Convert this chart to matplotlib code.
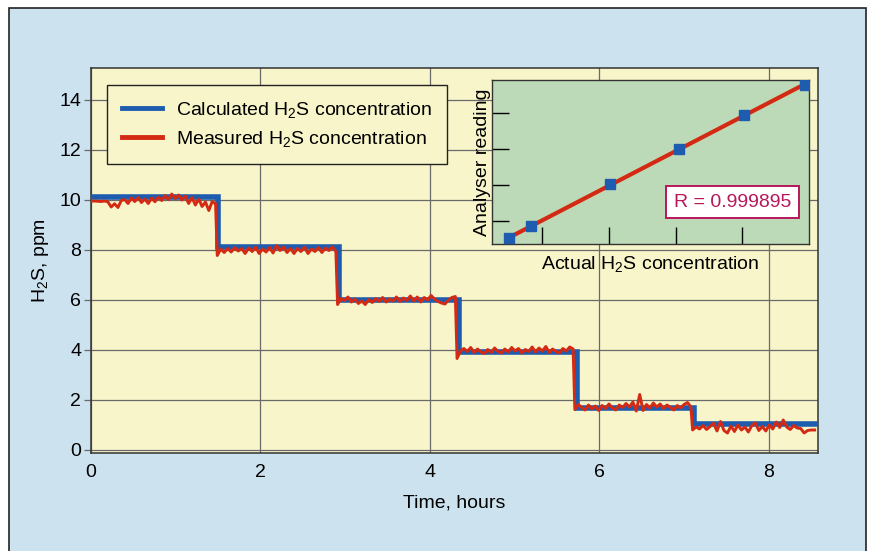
import numpy as np
import matplotlib
matplotlib.use("Agg")
import matplotlib.pyplot as plt
from matplotlib.patches import Rectangle

plt.rcParams['font.family'] = ['Liberation Sans', 'DejaVu Sans']
plt.rcParams['mathtext.fontset'] = 'custom'
plt.rcParams['mathtext.rm'] = 'Liberation Sans'
plt.rcParams['mathtext.it'] = 'Liberation Sans'

# calculated H2S (step changes)
calc_edges = [0, 1.50, 2.93, 4.34, 5.73, 7.12, 8.58]
calc_levels = [10.1, 8.1, 6.0, 3.92, 1.68, 1.05]

seg1 = [9.95, 9.96, 9.95, 9.94, 9.96, 9.93, 9.72, 9.85, 9.70, 9.98, 10.02, 9.86, 10.08,
        9.94, 10.10, 9.90, 10.04, 9.86, 10.08, 9.93, 10.12, 9.98, 10.18, 10.02, 10.24,
        10.06, 10.20, 10.00, 10.16, 9.86, 10.10, 9.80, 10.04, 9.74, 9.92, 9.58, 9.94, 9.85]
seg2 = [7.78, 8.04, 7.90, 8.06, 7.92, 8.10, 7.96, 8.06, 7.86, 8.08, 7.94, 8.12, 7.86,
        8.04, 7.92, 8.10, 7.88, 8.18, 7.98, 8.12, 7.90, 8.06, 7.86, 8.06, 7.94, 8.12,
        7.86, 8.04, 7.94, 8.10, 7.90, 8.08, 7.98, 8.12, 7.95]
seg3 = [5.82, 6.06, 5.98, 6.12, 5.92, 6.04, 5.86, 5.96, 5.82, 6.02, 5.90, 6.06, 5.94,
        6.10, 5.92, 6.04, 5.96, 6.12, 5.94, 6.08, 5.98, 6.16, 5.96, 6.12, 5.92, 6.10,
        6.00, 6.18, 6.04, 5.94, 5.88, 5.84, 6.00, 6.10, 6.14]
seg4 = [3.66, 3.96, 4.06, 3.94, 4.10, 3.90, 4.04, 3.92, 3.86, 4.02, 3.90, 4.08, 3.94,
        3.88, 4.04, 3.92, 4.10, 3.96, 4.06, 3.88, 4.02, 3.94, 4.12, 3.92, 4.08, 3.96,
        4.14, 3.90, 4.04, 3.94, 3.88, 4.06, 3.96, 4.12, 4.04]
seg5 = [1.62, 1.82, 1.70, 1.60, 1.80, 1.64, 1.76, 1.58, 1.78, 1.66, 1.84, 1.68, 1.60,
        1.80, 1.70, 1.86, 1.72, 1.92, 1.56, 2.22, 1.58, 1.82, 1.68, 1.88, 1.72, 1.84,
        1.66, 1.80, 1.70, 1.60, 1.78, 1.68, 1.82, 1.90, 1.72]
seg6 = [0.80, 0.92, 0.84, 0.98, 0.82, 0.94, 1.07, 0.76, 1.14, 0.78, 0.68, 0.96, 0.74,
        1.00, 0.80, 0.92, 0.72, 0.98, 1.08, 0.78, 0.94, 0.76, 1.00, 0.84, 1.12, 0.90,
        1.20, 0.92, 0.82, 0.98, 0.88, 0.86, 0.68, 0.78, 0.80, 0.80]
meas_segments = [(0.00, 1.47, seg1), (1.49, 2.89, seg2), (2.91, 4.30, seg3),
                 (4.32, 5.69, seg4), (5.71, 7.08, seg5), (7.10, 8.54, seg6)]

# inset calibration
actual_conc = [1.0, 1.67, 4.03, 6.09, 8.06, 9.88]
analyser_reading = [1.06, 1.72, 4.05, 6.0, 7.9, 9.55]

blue = '#1d5cae'
red = '#d42a14'
fs = 14

meas_t = np.concatenate([np.linspace(a, b, len(v)) for a, b, v in meas_segments])
meas_v = np.concatenate([v for a, b, v in meas_segments])

fig = plt.figure(figsize=(8.7, 5.51), dpi=100)
fig.patch.set_facecolor('white')
page = Rectangle((9 / 870, -0.05), (866 - 9) / 870, 1.05 - 8 / 551,
                 transform=fig.transFigure, facecolor='#cde2ef',
                 edgecolor='#222222', lw=1.2, zorder=-5)
fig.add_artist(page)

ax = fig.add_axes([91 / 870, 1 - 453 / 551, (818 - 91) / 870, (453 - 68) / 551])
ax.set_facecolor('#f7f5c9')
ax.stairs(calc_levels, calc_edges, baseline=None, color=blue, lw=4,
          label='Calculated H$_2$S concentration', zorder=3)
ax.plot(meas_t, meas_v, color=red, lw=2.1, label='Measured H$_2$S concentration', zorder=4)

ax.set_xlim(0, 8.58)
ax.set_ylim(-0.12, 15.28)
ax.set_xticks([0, 2, 4, 6, 8])
ax.set_yticks([0, 2, 4, 6, 8, 10, 12, 14])
ax.grid(True, color='#6a6a6a', lw=0.9)
ax.set_axisbelow(True)
ax.tick_params(axis='x', length=0, pad=8, labelsize=fs)
ax.tick_params(axis='y', length=5, width=0.9, color='#6a6a6a', pad=2, labelsize=fs)
for s in ax.spines.values():
    s.set_color('#333333')
    s.set_linewidth(1.1)
ax.set_xlabel('Time, hours', fontsize=fs, labelpad=10)
ax.set_ylabel('H$_2$S, ppm', fontsize=fs, labelpad=6)

leg = ax.legend(loc='upper left', bbox_to_anchor=(0.022, 0.956), fontsize=fs,
                frameon=True, fancybox=False, edgecolor='#222222', facecolor='#f7f5c9',
                framealpha=1, handlelength=2.1, borderpad=0.75, labelspacing=0.5,
                handletextpad=0.7, borderaxespad=0)
leg.get_frame().set_linewidth(1.0)
for h in leg.get_lines():
    h.set_linewidth(3.5)

# inset
ins = fig.add_axes([492 / 870, 1 - 244 / 551, (809 - 492) / 870, (244 - 80) / 551])
ins.set_facecolor('#bcdab7')
fit = np.polyfit(actual_conc, analyser_reading, 1)
fx = np.array([actual_conc[0], actual_conc[-1]])
ins.plot(fx, np.polyval(fit, fx), color=red, lw=3, zorder=3)
ins.plot(actual_conc, analyser_reading, 's', color=blue, ms=7.5, zorder=4)
ins.set_xlim(0.5, 10.0)
ins.set_ylim(0.75, 9.83)
ins.set_xticks([2, 4, 6, 8])
ins.set_yticks([2, 4, 6, 8])
ins.tick_params(direction='in', length=12, width=1.0, labelbottom=False, labelleft=False)
for s in ins.spines.values():
    s.set_color('#333333')
    s.set_linewidth(1.0)
ins.set_xlabel('Actual H$_2$S concentration', fontsize=fs, labelpad=7)
ins.set_ylabel('Analyser reading', fontsize=fs, labelpad=1)
ins.text(0.76, 0.256, 'R = 0.999895', transform=ins.transAxes, ha='center', va='center',
         fontsize=fs, color='#b8175a',
         bbox=dict(boxstyle='square,pad=0.4', facecolor='white', edgecolor='#b8175a', lw=1.4))

fig.savefig('out.png', dpi=100)
